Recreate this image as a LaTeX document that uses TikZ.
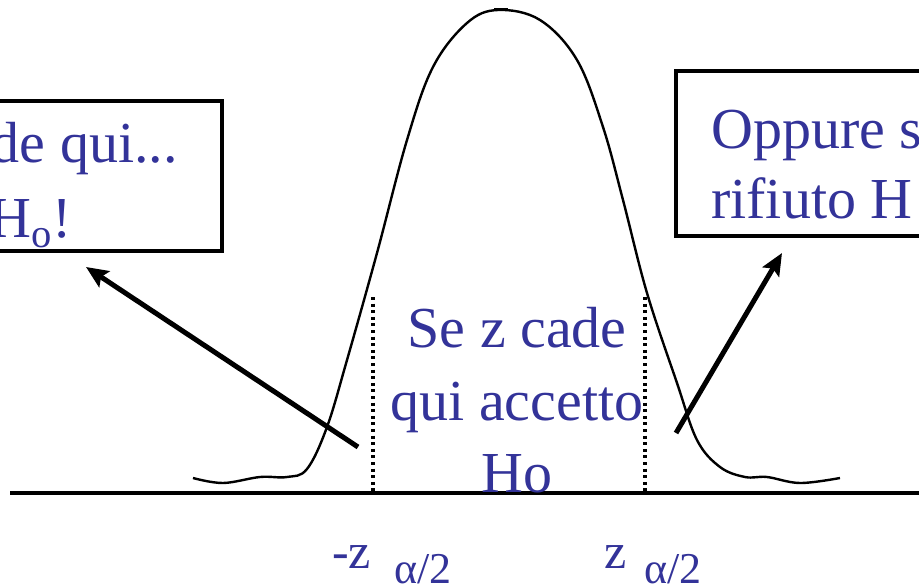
\documentclass[tikz,border=0pt]{standalone}
\usepackage{fontspec}
\setmainfont{Liberation Serif}
\usetikzlibrary{arrows.meta}
\definecolor{txtblue}{RGB}{51,51,153}
\begin{document}
\begin{tikzpicture}[x=1pt,y=-1pt,
  lbl/.style={text=txtblue, font=\fontsize{58}{72}\selectfont, inner sep=0pt},
  zlbl/.style={text=txtblue, font=\fontsize{50}{60}\selectfont, inner sep=0pt},
  sublbl/.style={text=txtblue, font=\fontsize{44}{52}\selectfont, inner sep=0pt},
  boxline/.style={line width=3.2pt},
  curveline/.style={line width=2.4pt},
  bigarrow/.style={line width=5pt, -{Stealth[length=22pt,width=19pt,inset=4pt]}},
  cutline/.style={line width=3.4pt, dash pattern=on 3pt off 3.6pt},
]
\useasboundingbox (0,0) rectangle (919,586);
\clip (0,0) rectangle (919,586);
\fill[white] (0,0) rectangle (919,586);

% boxes (cut by the picture edges)
\draw[boxline] (-20,101) rectangle (222,251);
\draw[boxline] (676,71) rectangle (945,236);

% box texts
\node[lbl, anchor=base east] (lt1) at (178,162) {de qui...};
\node[lbl, anchor=base east] (lt2) at (72,237) {H\textsubscript{o}!};
\node[lbl, anchor=base west] (rt1) at (711,148) {Oppure s};
\node[lbl, anchor=base west] (rt2) at (711,218) {rifiuto H};

% axis
\draw[line width=3.2pt] (10,493) -- (919,493);

% density curve
\draw[curveline] plot[smooth, tension=0.6] coordinates {
  (193,478) (223,483) (260,477) (287,477) (307,469) (327,427) (347,360)
  (377,253) (407,140) (433,67) (467,23) (498,10) (540,20) (577,60)
  (603,127) (623,200) (647,293) (677,383) (697,440) (720,467) (745,477)
  (767,477) (800,483) (840,478)};
\draw[line width=3.2pt] (494,9.5) -- (508,9.5);

% critical values
\coordinate (d1t) at (373,297);
\coordinate (d1b) at (373,493);
\coordinate (d2t) at (645,297);
\coordinate (d2b) at (645,493);
\draw[cutline] (d1t) -- (d1b);
\draw[cutline] (d2t) -- (d2b);

% centre text
\node[lbl, anchor=base] (c1) at (517,347) {Se z cade};
\node[lbl, anchor=base] (c2) at (517,420) {qui accetto};
\node[lbl, anchor=base] (c3) at (517,492) {Ho};

% arrows
\coordinate (la0) at (358,447);
\coordinate (la1) at (86,267);
\coordinate (ra0) at (676,433);
\coordinate (ra1) at (782,253);
\draw[bigarrow] (la0) -- (la1);
\draw[bigarrow] (ra0) -- (ra1);

% bottom labels
\node[zlbl, anchor=base west] (mz) at (332,568) {-z};
\node[sublbl, anchor=base west] (ma) at (394,583) {α/2};
\node[zlbl, anchor=base west] (pz) at (604,568) {z};
\node[sublbl, anchor=base west] (pa) at (644,583) {α/2};
\end{tikzpicture}
\end{document}
